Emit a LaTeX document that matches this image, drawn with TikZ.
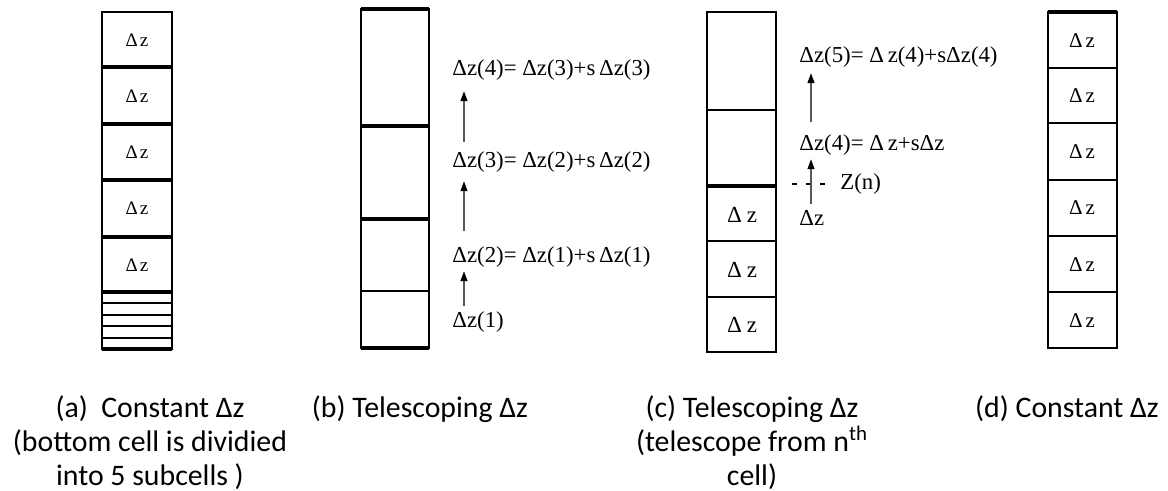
\documentclass[tikz,border=0pt]{standalone}
\usepackage{fontspec}
\setmainfont{Carlito}
\newfontfamily\serifz{Liberation Serif}
\usetikzlibrary{arrows.meta}

\tikzset{
  cellline/.style={line width=1.25pt},
  thickline/.style={line width=2pt},
  cellz/.style={font=\serifz\fontsize{9.5}{11}\selectfont, inner sep=0pt},
  bigz/.style={font=\serifz\fontsize{10.5}{12}\selectfont, inner sep=0pt},
  formula/.style={font=\serifz\fontsize{11.4}{13}\selectfont, anchor=west, inner sep=0pt},
  upArrow/.style={draw=black!65, line width=0.7pt, -{Triangle[length=5pt,width=3.5pt,color=black]}},
  zdash/.style={line width=1pt, dash pattern=on 2.5pt off 4.5pt},
  caption/.style={font=\fontsize{14.9}{17}\selectfont, align=center, anchor=north, inner sep=0pt},
}

\begin{document}
\begin{tikzpicture}[x=0.5pt,y=-0.5pt]
  \useasboundingbox (0,0) rectangle (1168,491);

  % Column (a): constant cells, bottom one split into subcells
  \draw[cellline] (102,12) rectangle (172,349);
  \foreach \y in {67,124,180,237,292,349}
    \draw[thickline] (102,\y) -- (172,\y);
  \foreach \y in {303,315,326,338}
    \draw[cellline] (102,\y) -- (172,\y);
  \foreach \y [count=\i] in {40,96,152,208,265}
    \node[cellz] (a\i) at (137,\y) {Δ\kern1pt z};

  % Column (b): telescoping cells
  \draw[cellline] (361,9) rectangle (429,348);
  \foreach \y in {9,126,219,348}
    \draw[thickline] (361,\y) -- (429,\y);
  \draw[cellline] (361,291) -- (429,291);

  \node[formula] (b1) at (452,322) {Δz(1)};
  \node[formula] (b2) at (452,257) {Δz(2)= Δz(1)+s\,Δz(1)};
  \node[formula] (b3) at (452,162) {Δz(3)= Δz(2)+s\,Δz(2)};
  \node[formula] (b4) at (452,70) {Δz(4)= Δz(3)+s\,Δz(3)};

  \draw[upArrow, shorten <=2.75pt, shorten >=1.75pt]
    ([xshift=6pt]b1.north west) -- ([xshift=6pt]b2.south west);
  \draw[upArrow, shorten <=7.75pt, shorten >=4.25pt]
    ([xshift=6pt]b2.north west) -- ([xshift=6pt]b3.south west);
  \draw[upArrow, shorten <=4.75pt, shorten >=5.25pt]
    ([xshift=6pt]b3.north west) -- ([xshift=6pt]b4.south west);

  % Column (c): telescoping from the n-th cell
  \draw[cellline] (707,12) rectangle (776,352);
  \foreach \y in {110,241,297}
    \draw[cellline] (707,\y) -- (776,\y);
  \draw[thickline] (707,186) -- (776,186);
  \foreach \y [count=\i] in {215,270,325}
    \node[bigz, font=\serifz\fontsize{11.5}{13}\selectfont] (c\i) at (742,\y) {Δ\kern2.5pt z};

  \node[formula] (c5) at (799,57) {Δz(5)= Δ\,z(4)+sΔz(4)};
  \node[formula] (c4) at (799,145) {Δz(4)= Δ\,z+sΔz};
  \node[formula] (cz) at (799,218) {Δz};
  \node[formula] (zn) at (840,184) {Z(n)};
  \coordinate (zl) at (792,184);
  \draw[zdash] (zl) -- ([xshift=-7pt]zn.west);

  \draw[upArrow, shorten <=3.25pt, shorten >=1.75pt]
    ([xshift=6pt]cz.north west) -- ([xshift=6pt]c4.south west);
  \draw[upArrow, shorten <=6.25pt, shorten >=2.75pt]
    ([xshift=6pt]c4.north west) -- ([xshift=6pt]c5.south west);

  % Column (d): constant cells
  \draw[cellline] (1048,12) rectangle (1117,348);
  \draw[thickline] (1048,12) -- (1117,12);
  \foreach \y in {68,123,180,236,292}
    \draw[cellline] (1048,\y) -- (1117,\y);
  \foreach \y [count=\i] in {41,96,152,208,265,321}
    \node[bigz] (d\i) at (1082,\y) {Δ\kern1.5pt z};

  % Captions
  \node[caption] (capa) at (150,395) {(a)\ \ Constant Δz\\(bottom cell is dividied\\into 5 subcells )};
  \node[caption] (capb) at (420,395) {(b) Telescoping Δz};
  \node[caption] (capc) at (752,395) {(c) Telescoping Δz\\(telescope from n\textsuperscript{th}\\cell)};
  \node[caption] (capd) at (1067,395) {(d) Constant Δz};
\end{tikzpicture}
\end{document}
